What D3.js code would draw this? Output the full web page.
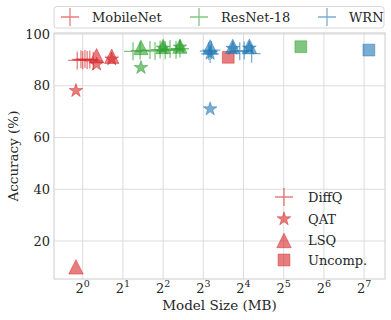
<!DOCTYPE html>
<html><head><meta charset="utf-8">
<script src="https://cdn.jsdelivr.net/npm/d3@7"></script>
<style>body{margin:0;background:#fff}svg{display:block}text{font-family:"DejaVu Serif",serif;fill:#262626}</style>
</head><body><svg id="c" width="391" height="320"></svg>
<script>
const models = ["MobileNet", "ResNet-18", "WRN"];
const modelColors = ["#d62728", "#2ca02c", "#1f77b4"];
const methods = ["DiffQ", "QAT", "LSQ", "Uncomp."];
const xTickExps = [0, 1, 2, 3, 4, 5, 6, 7];
const yTicks = [20, 40, 60, 80, 100];

// MobileNet
const mobileDiffQSize = [0.91, 0.97, 1.0, 1.04, 1.08, 1.13, 1.2];
const mobileDiffQAcc  = [89.8, 90.2, 89.9, 90.3, 90.0, 90.1, 89.6];
const mobileQATSize = [0.89, 1.27, 1.65];
const mobileQATAcc  = [78.1, 88.3, 90.3];
const mobileLSQSize = [0.89, 1.27, 1.65];
const mobileLSQAcc  = [10.0, 91.6, 91.4];
const mobileUncompSize = [12.3];
const mobileUncompAcc  = [91.0];
// ResNet-18
const resnetDiffQSize = [2.38, 2.69, 3.19, 3.48, 3.8, 4.15, 4.51, 5.0, 5.35];
const resnetDiffQAcc  = [93.3, 93.6, 93.8, 93.4, 94.0, 93.7, 94.2, 93.9, 94.3];
const resnetQATSize = [2.73, 4.0, 5.35];
const resnetQATAcc  = [87.0, 94.5, 94.9];
const resnetLSQSize = [2.73, 4.0, 5.35];
const resnetLSQAcc  = [94.8, 95.2, 95.3];
const resnetUncompSize = [43];
const resnetUncompAcc  = [95.1];
// WRN
const wrnDiffQSize = [8.8, 9.0, 9.2, 15.0, 16.2, 18.4];
const wrnDiffQAcc  = [93.4, 92.3, 93.8, 93.3, 93.6, 92.4];
const wrnQATSize = [9.0, 9.0, 13.3, 17.7];
const wrnQATAcc  = [71.0, 92.5, 94.4, 94.5];
const wrnLSQSize = [9.0, 13.3, 17.7];
const wrnLSQAcc  = [95.0, 95.2, 95.3];
const wrnUncompSize = [139];
const wrnUncompAcc  = [93.8];

const seriesData = [
  {model:0, method:0, size:mobileDiffQSize, acc:mobileDiffQAcc},
  {model:0, method:1, size:mobileQATSize, acc:mobileQATAcc},
  {model:0, method:2, size:mobileLSQSize, acc:mobileLSQAcc},
  {model:0, method:3, size:mobileUncompSize, acc:mobileUncompAcc},
  {model:1, method:0, size:resnetDiffQSize, acc:resnetDiffQAcc},
  {model:1, method:1, size:resnetQATSize, acc:resnetQATAcc},
  {model:1, method:2, size:resnetLSQSize, acc:resnetLSQAcc},
  {model:1, method:3, size:resnetUncompSize, acc:resnetUncompAcc},
  {model:2, method:0, size:wrnDiffQSize, acc:wrnDiffQAcc},
  {model:2, method:1, size:wrnQATSize, acc:wrnQATAcc},
  {model:2, method:2, size:wrnLSQSize, acc:wrnLSQAcc},
  {model:2, method:3, size:wrnUncompSize, acc:wrnUncompAcc},
];

const svg = d3.select("#c");
const L = 54, R = 385, T = 33, B = 279;
const x = d3.scaleLog().base(2).domain([Math.pow(2, -0.714), Math.pow(2, 7.52)]).range([L, R]);
const y = d3.scaleLinear().domain([5.31, 100.39]).range([B, T]);

// grid
const g = svg.append("g");
g.selectAll(".gx").data(xTickExps).join("line")
  .attr("x1", d => x(Math.pow(2, d))).attr("x2", d => x(Math.pow(2, d)))
  .attr("y1", T).attr("y2", B).attr("stroke", "#dcdcdc").attr("stroke-width", 1);
g.selectAll(".gy").data(yTicks).join("line")
  .attr("y1", d => y(d)).attr("y2", d => y(d))
  .attr("x1", L).attr("x2", R).attr("stroke", "#dcdcdc").attr("stroke-width", 1);
g.append("rect").attr("x", L).attr("y", T).attr("width", R - L).attr("height", B - T)
  .attr("fill", "none").attr("stroke", "#cccccc").attr("stroke-width", 1);

// markers
function markerPath(type, r) {
  if (type === 0) return `M${-r},0H${r}M0,${-r}V${r}`;
  if (type === 1) {
    const pts = [];
    for (let i = 0; i < 10; i++) {
      const rr = i % 2 === 0 ? r : r * 0.381966;
      const a = -Math.PI / 2 + i * Math.PI / 5;
      pts.push([rr * Math.cos(a), rr * Math.sin(a)]);
    }
    return "M" + pts.map(p => p[0].toFixed(2) + "," + p[1].toFixed(2)).join("L") + "Z";
  }
  if (type === 2) return `M0,${-r}L${r},${r}L${-r},${r}Z`;
  return `M${-r},${-r}H${r}V${r}H${-r}Z`;
}
const markerR = [9, 7.2, 7.2, 5.9];
function drawMarker(sel, type, color, cx, cy) {
  const p = sel.append("path").attr("d", markerPath(type, markerR[type]))
    .attr("transform", `translate(${cx},${cy})`);
  if (type === 0) p.attr("fill", "none").attr("stroke", color).attr("stroke-opacity", 0.6).attr("stroke-width", 1.3);
  else p.attr("fill", color).attr("fill-opacity", 0.6).attr("stroke", color).attr("stroke-opacity", 0.6).attr("stroke-width", 0.8);
}
const mg = svg.append("g");
seriesData.forEach(s => {
  s.size.forEach((v, i) => drawMarker(mg, s.method, modelColors[s.model], x(v), y(s.acc[i])));
});

// ticks
svg.append("g").selectAll("text").data(yTicks).join("text")
  .attr("x", 50).attr("y", d => y(d) + 4.6).attr("text-anchor", "end")
  .attr("font-size", 13).text(d => d);
const xt = svg.append("g").selectAll("text").data(xTickExps).join("text")
  .attr("x", d => x(Math.pow(2, d))).attr("y", 293).attr("text-anchor", "middle")
  .attr("font-size", 13);
xt.append("tspan").text("2");
xt.append("tspan").attr("dy", -6).attr("font-size", 9.5).text(d => d);

// axis labels
svg.append("text").attr("x", (L + R) / 2).attr("y", 310).attr("text-anchor", "middle")
  .attr("font-size", 13.5).text("Model Size (MB)");
svg.append("text").attr("transform", `translate(18,${(T + B) / 2}) rotate(-90)`)
  .attr("text-anchor", "middle").attr("font-size", 13.5).text("Accuracy (%)");

// top legend (models)
const lg = svg.append("g");
lg.append("rect").attr("x", 54).attr("y", 6.5).attr("width", 330).attr("height", 21.5)
  .attr("rx", 3).attr("fill", "#fff").attr("fill-opacity", 0.8).attr("stroke", "#d6d6d6");
const legX = [70, 199, 327];
models.forEach((m, i) => {
  drawMarker(lg, 0, modelColors[i], legX[i], 17);
  lg.append("text").attr("x", legX[i] + 22).attr("y", 21.6).attr("font-size", 13).text(m);
});

// method legend
const ml = svg.append("g");
const mlY = [197, 219, 240.5, 260];
methods.forEach((m, i) => {
  drawMarker(ml, i, modelColors[0], 284, mlY[i]);
  ml.append("text").attr("x", 308).attr("y", mlY[i] + 4.6).attr("font-size", 13).text(m);
});
</script></body></html>
